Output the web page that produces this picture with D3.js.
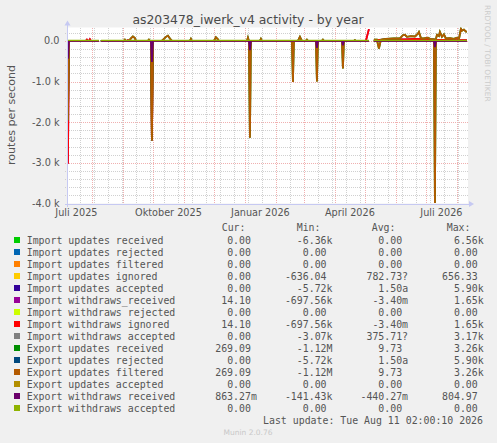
<!DOCTYPE html>
<html>
<head>
<meta charset="utf-8">
<script src="https://cdn.jsdelivr.net/npm/d3@7"></script>
<style>
  body { margin: 0; background: #f0f0f0; }
  svg { display: block; }
  text { font-family: "DejaVu Sans", sans-serif; }
  .mono { font-family: "DejaVu Sans Mono", monospace; white-space: pre; }
</style>
</head>
<body>
<script>
// time window of the munin "by year" graph
const startTime = "2025-07-07T02:00:00Z";
const endTime = "2026-08-11T02:00:10Z";

const yTicks = [0, -1000, -2000, -3000, -4000];
const yTickLabels = ["0.0", "-1.0 k", "-2.0 k", "-3.0 k", "-4.0 k"];
const xLabelMonths = ["2025-07-01", "2025-10-01", "2026-01-01", "2026-04-01", "2026-07-01"];
const xLabels = ["Juli 2025", "Oktober 2025", "Januar 2026", "April 2026", "Juli 2026"];

const fieldNames = [
  "Import updates received", "Import updates rejected", "Import updates filtered",
  "Import updates ignored", "Import updates accepted", "Import withdraws_received",
  "Import withdraws rejected", "Import withdraws ignored", "Import withdraws accepted",
  "Export updates received", "Export updates rejected", "Export updates filtered",
  "Export updates accepted", "Export withdraws received", "Export withdraws accepted"
];
const fieldColors = [
  "#00CC00", "#0066B3", "#FF8000", "#FFCC00", "#330099", "#990099", "#CCFF00",
  "#FF0000", "#808080", "#008F00", "#00487D", "#B35A00", "#B38F00", "#6B006B", "#8FB300"
];
const curVals = ["0.00", "0.00", "0.00", "0.00", "0.00", "14.10", "0.00", "14.10", "0.00", "269.09", "0.00", "269.09", "0.00", "863.27m", "0.00"];
const minVals = ["-6.36k", "0.00", "0.00", "-636.04", "-5.72k", "-697.56k", "0.00", "-697.56k", "-3.07k", "-1.12M", "-5.72k", "-1.12M", "0.00", "-141.43k", "0.00"];
const avgVals = ["0.00", "0.00", "0.00", "782.73?", "1.50a", "-3.40m", "0.00", "-3.40m", "375.71?", "9.73", "1.50a", "9.73", "0.00", "-440.27m", "0.00"];
const maxVals = ["6.56k", "0.00", "0.00", "656.33", "5.90k", "1.65k", "0.00", "1.65k", "3.17k", "3.26k", "5.90k", "3.26k", "0.00", "804.97", "0.00"];

// series as [day, routes/s]; null = no data
const flatZero = [["2025-07-08",0],["2025-08-08",0],["2025-08-09",null],["2025-08-10",0],
  ["2026-05-05",0],["2026-05-06",null],["2026-05-10",0],["2026-08-11",0]];

const withdrawsIgnored = [["2025-07-08",-3020],["2025-07-09",0],["2025-07-26",0],["2025-07-27",30],
  ["2025-07-28",0],["2025-07-29",0],["2025-07-30",40],["2025-07-31",0],["2025-08-08",0],["2025-08-09",null],
  ["2025-08-10",0],["2025-09-05",0],["2025-09-06",20],["2025-09-07",0],["2025-09-29",0],["2025-09-30",-2450],
  ["2025-10-01",0],["2025-10-10",0],["2025-10-11",20],["2025-10-12",0],["2026-05-02",0],["2026-05-03",100],
  ["2026-05-05",290],["2026-05-06",null],["2026-05-10",20],["2026-05-20",30],["2026-06-10",40],
  ["2026-06-20",50],["2026-07-10",30],["2026-08-01",20],["2026-08-11",20]];

const exportUpdates = [["2025-07-08",-1950],["2025-07-09",0],["2025-08-08",0],["2025-08-09",null],
  ["2025-08-10",0],["2025-09-02",0],["2025-09-03",30],["2025-09-04",0],["2025-09-07",0],["2025-09-09",60],
  ["2025-09-11",110],["2025-09-13",70],["2025-09-14",0],["2025-09-26",0],["2025-09-27",30],["2025-09-28",0],
  ["2025-09-29",0],["2025-09-30",-2450],["2025-10-01",0],["2025-10-10",0],["2025-10-12",50],["2025-10-14",100],
  ["2025-10-16",130],["2025-10-18",60],["2025-10-20",0],["2025-11-07",0],["2025-11-08",50],["2025-11-09",0],
  ["2025-12-01",0],["2025-12-03",90],["2025-12-05",40],["2025-12-06",0],["2026-01-03",0],["2026-01-04",80],
  ["2026-01-05",0],["2026-01-06",-2380],["2026-01-07",0],["2026-01-16",0],["2026-01-17",50],["2026-01-18",0],
  ["2026-02-17",0],["2026-02-18",-1010],["2026-02-19",0],["2026-02-23",0],["2026-02-25",100],["2026-02-27",0],
  ["2026-03-03",0],["2026-03-04",30],["2026-03-05",0],["2026-03-13",0],["2026-03-14",-1000],["2026-03-15",0],
  ["2026-03-19",0],["2026-03-20",30],["2026-03-21",0],["2026-04-08",0],["2026-04-09",-680],["2026-04-10",0],
  ["2026-04-20",0],["2026-04-21",20],["2026-04-22",0],["2026-05-05",0],["2026-05-06",null],["2026-05-10",30],
  ["2026-05-13",30],["2026-05-15",-190],["2026-05-17",30],["2026-05-22",50],["2026-05-30",60],["2026-06-05",60],
  ["2026-06-08",140],["2026-06-10",150],["2026-06-12",100],["2026-06-16",120],["2026-06-20",110],
  ["2026-06-23",180],["2026-06-24",220],["2026-06-26",70],["2026-06-29",60],["2026-07-03",80],["2026-07-06",40],
  ["2026-07-09",40],["2026-07-10",-3990],["2026-07-11",40],["2026-07-12",150],["2026-07-14",120],
  ["2026-07-15",220],["2026-07-17",100],["2026-07-19",160],["2026-07-21",60],["2026-07-25",70],
  ["2026-07-29",50],["2026-08-01",80],["2026-08-03",40],["2026-08-05",300],["2026-08-06",250],
  ["2026-08-08",280],["2026-08-10",230],["2026-08-11",230]];

const exportWithdraws = [["2025-07-08",-440],["2025-07-09",0],["2025-08-08",0],["2025-08-09",null],
  ["2025-08-10",0],["2025-09-29",0],["2025-09-30",-520],["2025-10-01",0],["2026-01-05",0],["2026-01-06",-230],
  ["2026-01-07",0],["2026-03-13",0],["2026-03-14",-170],["2026-03-15",0],["2026-04-08",0],["2026-04-09",-110],
  ["2026-04-10",0],["2026-05-05",0],["2026-05-06",null],["2026-05-10",0],["2026-07-09",0],["2026-07-10",-150],
  ["2026-07-11",0],["2026-08-11",0]];

// one entry per legend row, drawn in legend order
const seriesData = [flatZero, flatZero, flatZero, flatZero, flatZero, withdrawsIgnored, flatZero,
  withdrawsIgnored, flatZero, exportUpdates, flatZero, exportUpdates, flatZero, exportWithdraws, flatZero];

const W = 497, H = 443;
const plotLeft = 67, plotRight = 467, plotTop = 27.5, plotBottom = 203.5;

const svg = d3.select("body").append("svg")
  .attr("width", W)
  .attr("height", H);

svg.append("rect").attr("width", W).attr("height", H).attr("fill", "#f0f0f0");

const x = d3.scaleUtc()
  .domain([new Date(startTime), new Date(endTime)])
  .range([plotLeft, plotRight]);
const y = d3.scaleLinear()
  .domain([-4000, 330])
  .range([plotBottom, plotTop]);

svg.append("rect")
  .attr("x", plotLeft).attr("y", plotTop)
  .attr("width", plotRight - plotLeft + 1).attr("height", plotBottom - plotTop)
  .attr("fill", "#ffffff");

const grid = svg.append("g").attr("shape-rendering", "crispEdges");

// minor grid: every 200 routes/s and every two weeks
const minorY = d3.range(-4000, 331, 200).filter(v => v % 1000 !== 0);
grid.selectAll(".hmin").data(minorY).enter().append("line")
  .attr("x1", plotLeft - 2).attr("x2", plotRight + 1)
  .attr("y1", d => Math.round(y(d)) + 0.5).attr("y2", d => Math.round(y(d)) + 0.5)
  .attr("stroke", "#d0d0d0").attr("stroke-dasharray", "1,1");

const minorX = d3.range(-15, 13)
  .map(k => d3.utcDay.offset(new Date("2026-02-15T00:00:00Z"), k * 14))
  .filter(d => d >= x.domain()[0] && d <= x.domain()[1]);
grid.selectAll(".vmin").data(minorX).enter().append("line")
  .attr("y1", plotTop).attr("y2", plotBottom + 2)
  .attr("x1", d => Math.round(x(d)) + 0.5).attr("x2", d => Math.round(x(d)) + 0.5)
  .attr("stroke", "#d0d0d0").attr("stroke-dasharray", "1,1");

// major grid: every 1000 and each month
grid.selectAll(".hmaj").data(yTicks).enter().append("line")
  .attr("x1", plotLeft - 2).attr("x2", plotRight + 1)
  .attr("y1", d => Math.round(y(d)) + 0.5).attr("y2", d => Math.round(y(d)) + 0.5)
  .attr("stroke", "#f0b0b0").attr("stroke-dasharray", "1,1");

grid.selectAll(".vmaj").data(d3.utcMonth.range(x.domain()[0], x.domain()[1])).enter().append("line")
  .attr("y1", plotTop).attr("y2", plotBottom + 2)
  .attr("x1", d => Math.round(x(d)) + 0.5).attr("x2", d => Math.round(x(d)) + 0.5)
  .attr("stroke", "#f0b0b0").attr("stroke-dasharray", "1,1");

// lines
svg.append("clipPath").attr("id", "plotclip")
  .append("rect").attr("x", plotLeft).attr("y", plotTop)
  .attr("width", plotRight - plotLeft + 1).attr("height", plotBottom - plotTop);

const line = d3.line()
  .defined(d => d[1] !== null)
  .x(d => x(new Date(d[0] + "T00:00:00Z")))
  .y(d => y(d[1]));

const plot = svg.append("g").attr("clip-path", "url(#plotclip)");
seriesData.forEach(function(data, i) {
  const last = i === seriesData.length - 1;
  plot.append("path")
    .attr("d", line(data))
    .attr("fill", "none")
    .attr("stroke", fieldColors[i])
    .attr("stroke-width", last ? 1.1 : 1.8)
    .attr("transform", last ? "translate(0,-0.5)" : null)
    .attr("stroke-linejoin", "miter");
});

// axes with arrows
const axisColor = "#c6c9f2";
svg.append("line").attr("x1", plotLeft - 2.5).attr("x2", plotRight + 3)
  .attr("y1", plotBottom + 0.5).attr("y2", plotBottom + 0.5)
  .attr("stroke", axisColor).attr("shape-rendering", "crispEdges");
svg.append("line").attr("x1", plotLeft + 0.5).attr("x2", plotLeft + 0.5)
  .attr("y1", plotBottom + 3).attr("y2", plotTop - 3)
  .attr("stroke", axisColor).attr("shape-rendering", "crispEdges");
svg.append("path")
  .attr("d", `M${plotRight + 2},${plotBottom - 2.5}L${plotRight + 7},${plotBottom + 0.5}L${plotRight + 2},${plotBottom + 3.5}Z`)
  .attr("fill", axisColor);
svg.append("path")
  .attr("d", `M${plotLeft - 2.5},${plotTop - 2}L${plotLeft + 0.5},${plotTop - 7}L${plotLeft + 3.5},${plotTop - 2}Z`)
  .attr("fill", axisColor);

// tick labels
svg.selectAll(".ylab").data(yTicks).enter().append("text")
  .attr("x", 59.5).attr("y", d => y(d) + 3.5)
  .attr("text-anchor", "end")
  .attr("font-size", "9.7px").attr("fill", "#555")
  .text((d, i) => yTickLabels[i]);

svg.selectAll(".xlab").data(xLabelMonths).enter().append("text")
  .attr("x", d => {
    const m = new Date(d + "T00:00:00Z");
    return (x(m) + x(d3.utcMonth.offset(m, 1))) / 2;
  })
  .attr("y", 216)
  .attr("text-anchor", "middle")
  .attr("font-size", "9.7px").attr("fill", "#555")
  .text((d, i) => xLabels[i]);

// title and axis label
svg.append("text").attr("x", 248).attr("y", 23.5).attr("text-anchor", "middle")
  .attr("font-size", "12.4px").attr("fill", "#4a4a4a")
  .text("as203478_iwerk_v4 activity - by year");

svg.append("text").attr("transform", "translate(15,115) rotate(-90)").attr("text-anchor", "middle")
  .attr("font-size", "11.1px").attr("fill", "#555")
  .text("routes per second");

svg.append("text").attr("transform", "translate(485,5) rotate(90)")
  .attr("font-size", "7.5px").attr("fill", "#cccccc")
  .text("RRDTOOL / TOBI OETIKER");

// legend
const fs = 9.9, cw = fs * 0.602;
const legend = svg.append("g").attr("font-size", fs + "px").attr("fill", "#555");

const heads = ["Cur:", "Min:", "Avg:", "Max:"];
const headX = [221.7, 296.7, 371.7, 446.7];
heads.forEach(function(h, j) {
  legend.append("text").attr("class", "mono").attr("x", headX[j]).attr("y", 231).text(h);
});

const numRight = [251, 326.6, 402.2, 477.8];
const cols = [curVals, minVals, avgVals, maxVals];
fieldNames.forEach(function(name, i) {
  const yy = 243.5 + i * 12;
  legend.append("rect").attr("x", 14).attr("y", yy - 6.5).attr("width", 6).attr("height", 6)
    .attr("fill", fieldColors[i]);
  legend.append("text").attr("class", "mono").attr("x", 26.7).attr("y", yy).text(name);
  cols.forEach(function(col, j) {
    const v = col[i];
    const numLen = /[0-9]$/.test(v) ? v.length : v.length - 1;
    legend.append("text").attr("class", "mono").attr("x", numRight[j] - numLen * cw).attr("y", yy).text(v);
  });
});

legend.append("text").attr("class", "mono").attr("x", 483).attr("y", 423.5).attr("text-anchor", "end")
  .text("Last update: Tue Aug 11 02:00:10 2026");

svg.append("text").attr("x", 248).attr("y", 435).attr("text-anchor", "middle")
  .attr("font-size", "7.5px").attr("fill", "#c8c8c8")
  .text("Munin 2.0.76");
</script>
</body>
</html>
